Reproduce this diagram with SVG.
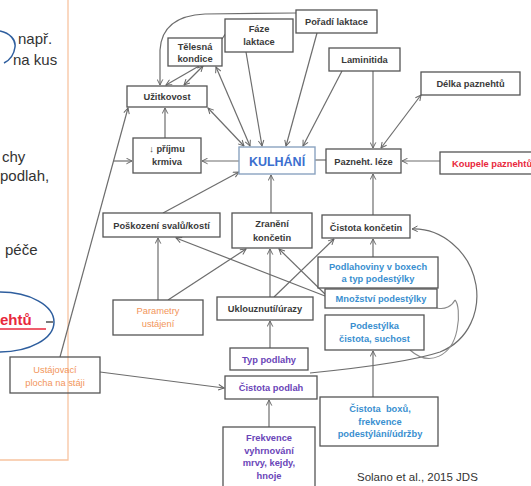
<svg xmlns="http://www.w3.org/2000/svg" width="531" height="486" viewBox="0 0 531 486">
<defs>
<marker id="a" viewBox="0 0 10 10" refX="9" refY="5" markerWidth="7" markerHeight="7" orient="auto-start-reverse" markerUnits="userSpaceOnUse">
<path d="M1,1 L9,5 L1,9" fill="none" stroke="#666" stroke-width="1.4"/>
</marker>
</defs>
<style>
.b{fill:#fff;stroke:#555;stroke-width:1.3}
.t{font-family:"Liberation Sans",Arial,sans-serif;font-weight:bold;font-size:9.3px;fill:#3a3a3a;text-anchor:middle}
.blue{fill:#3a8fd0}
.pur{fill:#6a45b8}
.org{fill:#f2955a}
.red{fill:#e8283c}
.c{fill:none;stroke:#6d6d6d;stroke-width:1.2}
.ae{marker-end:url(#a)}
.ab{marker-start:url(#a);marker-end:url(#a)}
.s{font-family:"Liberation Sans",Arial,sans-serif;font-size:15px;fill:#333}
</style>
<rect width="531" height="486" fill="#fff"/>
<g id="slide">
<path d="M68,0 L68,460 L0,460" fill="none" stroke="#f7c4a0" stroke-width="1.3"/>
<path d="M0,31 C10,33 16,40 15,47 C14,55 10,60 4,63" fill="none" stroke="#2e5e9e" stroke-width="1.5"/>
<text class="s" x="18" y="44">např.</text>
<text class="s" x="13" y="65">na kus</text>
<text class="s" x="2" y="162">chy</text>
<text class="s" x="0" y="181">podlah,</text>
<text class="s" x="5" y="255">péče</text>
<text class="s" x="0" y="325" style="font-weight:bold;fill:#e8283c">ehtů</text>
<line x1="0" y1="329" x2="46" y2="329" stroke="#e8283c" stroke-width="1.5"/>
<line x1="46" y1="322" x2="53" y2="322" stroke="#333" stroke-width="1.3"/>
<ellipse cx="0" cy="322" rx="54" ry="30" fill="none" stroke="#2e5e9e" stroke-width="1.5"/>
<text x="357" y="481" style="font-family:'Liberation Sans',Arial,sans-serif;font-size:11.5px;fill:#333">Solano et al., 2015 JDS</text>
</g>
<g id="connectors">
<path class="c ae" d="M296,13 L205,14 Q162,16 160,50 L160,85"/>
<path class="c ae" d="M199,66 L166,85"/>
<path class="c ab" d="M203,66 L184,85"/>
<path class="c" d="M222,39 L226,33"/>
<path class="c ab" d="M250,146 L216,67"/>
<path class="c ab" d="M208,108 L244,146"/>
<path class="c ae" d="M246,52 L262,146"/>
<path class="c ae" d="M317,33 L286,146"/>
<path class="c ae" d="M342,71 L303,146"/>
<path class="c ae" d="M373,71 L373,148"/>
<path class="c ab" d="M421,95 L381,148"/>
<path class="c" d="M315,160 L326,160"/>
<path class="c ae" d="M440,161 L402,161"/>
<path class="c ae" d="M373,215 L373,174"/>
<path class="c ae" d="M239,161 L202,161"/>
<path class="c ae" d="M165,138 L165,108"/>
<path class="c ae" d="M60,357 L128,108"/>
<path class="c ae" d="M114,161 L132,161"/>
<path class="c ae" d="M163,213 L239,172"/>
<path class="c ae" d="M271,213 L271,175"/>
<path class="c ae" d="M158,300 L158,238"/>
<path class="c ae" d="M168,300 L246,249"/>
<path class="c ae" d="M325,296 L176,238"/>
<path class="c ae" d="M325,294 L279,249"/>
<path class="c ae" d="M270,297 L270,249"/>
<path class="c ae" d="M274,297 L334,239"/>
<path class="c ae" d="M373,257 L373,239"/>
<path class="c ae" d="M270,348 L270,321"/>
<path class="c ae" d="M269,427 L269,400"/>
<path class="c ae" d="M100,372 L224,388"/>
<path class="c ae" d="M373,397 L373,351"/>
<path class="c ae" d="M310,373 C360,368 410,362 440,352 C470,340 480,310 476,285 C470,250 440,228 412,229"/>
<path d="M410,350 C430,368 452,355 457,330 C460,315 458,303 455,300 M437,308 C445,310 452,306 455,300" fill="none" stroke="#8a8a8a" stroke-width="1.1"/>
</g>
<g id="uzitkovost"><rect class="b" x="127" y="86" width="80" height="21"/><text class="t" x="167" y="100">Užitkovost</text></g>
<g id="telesna"><rect class="b" x="168" y="38" width="54" height="28"/><text class="t" x="195" y="50">Tělesná</text><text class="t" x="195" y="62">kondice</text></g>
<g id="faze"><rect class="b" x="225" y="19" width="68" height="33"/><text class="t" x="259" y="32">Fáze</text><text class="t" x="259" y="45">laktace</text></g>
<g id="poradi"><rect class="b" x="296" y="10" width="81" height="23"/><text class="t" x="336.5" y="25">Pořadí laktace</text></g>
<g id="laminitida"><rect class="b" x="329" y="48" width="71" height="23"/><text class="t" x="364.5" y="63">Laminitida</text></g>
<g id="delka"><rect class="b" x="421" y="72" width="99" height="23"/><text class="t" x="470.5" y="87">Délka paznehtů</text></g>
<g id="prijmu"><rect class="b" x="133" y="138" width="68" height="35"/><text class="t" x="167" y="152">↓ příjmu</text><text class="t" x="167" y="165">krmiva</text></g>
<g id="kulhani"><rect x="239" y="147" width="76" height="27" fill="#fff" stroke="#8aa3c0" stroke-width="1.4"/><text class="t" x="277" y="165.5" style="font-size:12.5px;fill:#3b6fcf">KULHÁNÍ</text></g>
<g id="pazneht"><rect class="b" x="326" y="149" width="75" height="24"/><text class="t" x="363.5" y="164.5">Pazneht. léze</text></g>
<g id="koupele"><rect class="b" x="440" y="152" width="100" height="22"/><text class="t red" x="452" y="166.5" style="text-anchor:start">Koupele paznehtů</text></g>
<g id="poskozeni"><rect class="b" x="103" y="213" width="117" height="24"/><text class="t" x="161.5" y="228.5">Poškození svalů/kostí</text></g>
<g id="zraneni"><rect class="b" x="232" y="213" width="80" height="35"/><text class="t" x="272" y="227">Zranění</text><text class="t" x="272" y="241">končetin</text></g>
<g id="cistota-koncetin"><rect class="b" x="322" y="215" width="88" height="23"/><text class="t" x="366" y="230.5">Čistota končetin</text></g>
<g id="podlahoviny"><rect class="b" x="318" y="257" width="120" height="31"/><text class="t blue" x="378" y="269.5">Podlahoviny v boxech</text><text class="t blue" x="378" y="282">a typ podestýlky</text></g>
<g id="mnozstvi"><rect class="b" x="325" y="289" width="112" height="19"/><text class="t blue" x="381" y="302">Množství podestýlky</text></g>
<g id="parametry"><rect class="b" x="113" y="300" width="90" height="35"/><text class="t org" x="158" y="314" style="font-weight:normal">Parametry</text><text class="t org" x="158" y="327" style="font-weight:normal">ustájení</text></g>
<g id="uklouznuti"><rect class="b" x="217" y="297" width="96" height="23"/><text class="t" x="265" y="312">Uklouznutí/úrazy</text></g>
<g id="podestylka"><rect class="b" x="325" y="315" width="99" height="35"/><text class="t blue" x="374.5" y="329">Podestýlka</text><text class="t blue" x="374.5" y="342">čistota, suchost</text></g>
<g id="typ-podlahy"><rect class="b" x="230" y="348" width="78" height="22"/><text class="t pur" x="269" y="363">Typ podlahy</text></g>
<g id="cistota-podlah"><rect class="b" x="225" y="376" width="92" height="23"/><text class="t pur" x="271" y="390.5">Čistota podlah</text></g>
<g id="cistota-boxu"><rect class="b" x="320" y="397" width="118" height="49"/><text class="t blue" x="380" y="412" xml:space="preserve">Čistota  boxů,</text><text class="t blue" x="380" y="424.5">frekvence</text><text class="t blue" x="380" y="437">podestýlání/údržby</text></g>
<g id="frekvence"><rect class="b" x="223" y="427" width="92" height="64"/><text class="t pur" x="269" y="441">Frekvence</text><text class="t pur" x="269" y="453.5">vyhrnování</text><text class="t pur" x="269" y="466">mrvy, kejdy,</text><text class="t pur" x="269" y="479">hnoje</text></g>
<g id="ustajovaci"><rect x="10" y="357" width="90" height="36" fill="none" stroke="#555" stroke-width="1.3"/><text class="t org" x="55" y="373" style="font-weight:normal">Ustájovací</text><text class="t org" x="55" y="386" style="font-weight:normal">plocha na stáji</text></g>
</svg>
